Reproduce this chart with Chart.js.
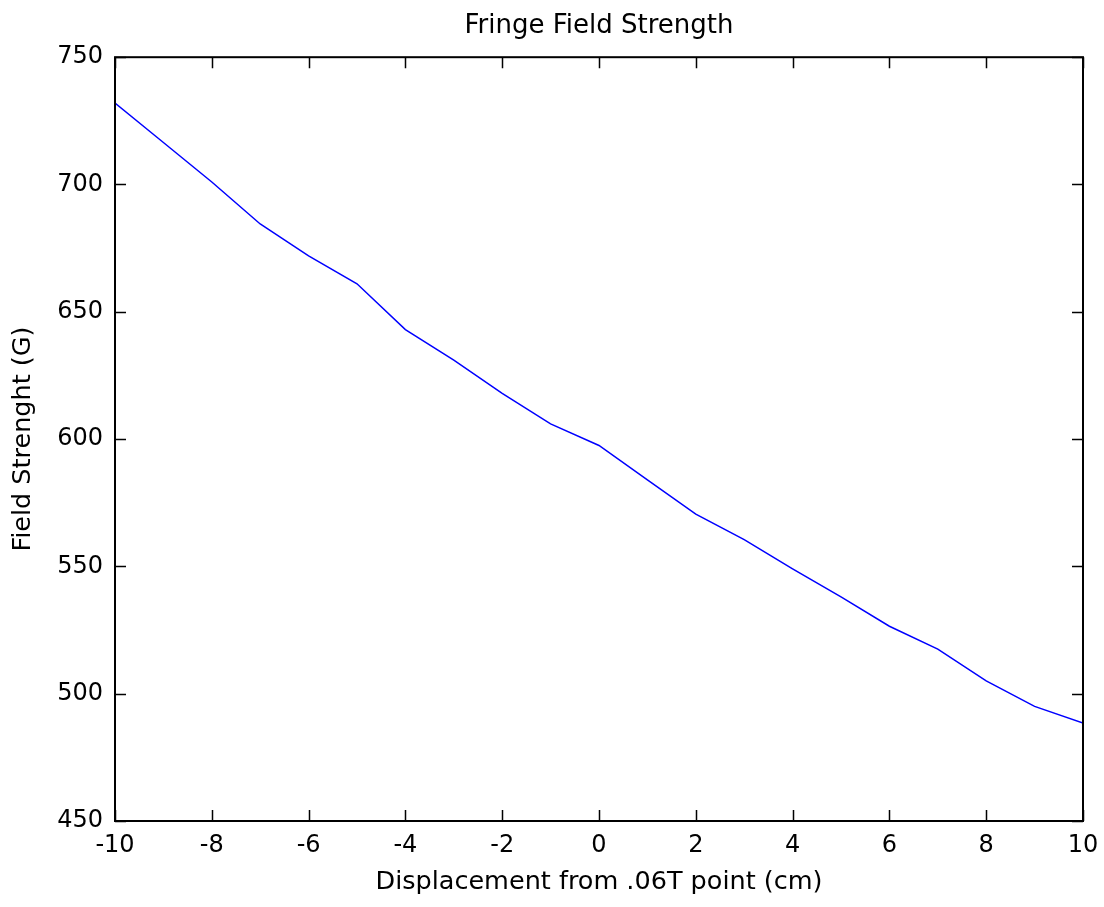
<!DOCTYPE html>
<html>
<head>
<meta charset="utf-8">
<title>Fringe Field Strength</title>
<script src="https://cdn.jsdelivr.net/npm/chart.js@4.4.1/dist/chart.umd.min.js"></script>
<style>
  html, body { margin: 0; padding: 0; background: #fff; }
  #wrap { width: 1104px; height: 907px; }
</style>
</head>
<body>
<div id="wrap"><canvas id="fieldChart" width="1104" height="907"></canvas></div>
<script>
const displacement = [-10, -9, -8, -7, -6, -5, -4, -3, -2, -1, 0, 1, 2, 3, 4, 5, 6, 7, 8, 9, 10];
const fieldStrength = [732, 716.5, 701, 684.5, 672, 661, 643, 631, 618, 606, 597.5, 584, 570.5, 560.5, 549, 538, 526.5, 517.5, 505, 495, 488.5];
const xRange = [-10, 10];
const yRange = [450, 750];

const FONT = 'DejaVu Sans';
Chart.defaults.color = '#000';
Chart.defaults.font.family = FONT;
Chart.defaults.font.size = 24;

// matlab style box with inward tick marks on all four sides
const boxTicks = {
    id: 'boxTicks',
    afterDatasetsDraw(chart) {
        const { ctx, chartArea: a, scales } = chart;
        const len = 11;
        ctx.save();
        ctx.strokeStyle = '#000';
        ctx.lineWidth = 1.5;
        ctx.beginPath();
        scales.x.ticks.forEach(t => {
            const px = Math.round(scales.x.getPixelForValue(t.value)) + 0.5;
            ctx.moveTo(px, a.bottom); ctx.lineTo(px, a.bottom - len);
            ctx.moveTo(px, a.top); ctx.lineTo(px, a.top + len);
        });
        scales.y.ticks.forEach(t => {
            const py = Math.round(scales.y.getPixelForValue(t.value)) + 0.5;
            ctx.moveTo(a.left, py); ctx.lineTo(a.left + len, py);
            ctx.moveTo(a.right, py); ctx.lineTo(a.right - len, py);
        });
        ctx.stroke();
        ctx.lineWidth = 2;
        ctx.strokeRect(a.left, a.top, a.right - a.left, a.bottom - a.top);
        ctx.restore();
    }
};

const points = displacement.map((x, i) => ({ x: x, y: fieldStrength[i] }));

new Chart(document.getElementById('fieldChart').getContext('2d'), {
    type: 'line',
    data: {
        datasets: [{
            data: points,
            borderColor: '#0000ff',
            borderWidth: 1.5,
            pointRadius: 0,
            tension: 0,
            fill: false
        }]
    },
    options: {
        responsive: false,
        animation: false,
        layout: { padding: { left: 0, right: 21, top: 0, bottom: 0 } },
        plugins: {
            legend: { display: false },
            tooltip: { enabled: false },
            title: {
                display: true,
                fullSize: false,
                text: 'Fringe Field Strength',
                color: '#000',
                font: { size: 26, weight: 'normal' },
                padding: { top: 11, bottom: 15 }
            }
        },
        scales: {
            x: {
                type: 'linear',
                min: xRange[0],
                max: xRange[1],
                grid: { display: false, drawTicks: false },
                border: { display: false },
                ticks: { stepSize: 2, padding: 10, maxRotation: 0 },
                title: {
                    display: true,
                    text: 'Displacement from .06T point (cm)',
                    font: { size: 25.5 },
                    padding: { top: 0, bottom: 9 }
                },
                afterFit: scale => {
                    scale.height = 86;
                    scale.paddingLeft = 0;
                    scale.paddingRight = 0;
                }
            },
            y: {
                min: yRange[0],
                max: yRange[1],
                grid: { display: false, drawTicks: false },
                border: { display: false },
                ticks: { stepSize: 50, padding: 12 },
                title: {
                    display: true,
                    text: 'Field Strenght (G)',
                    font: { size: 25.5 },
                    padding: { top: 8, bottom: 0 }
                },
                afterFit: scale => {
                    scale.width = 115;
                    scale.paddingTop = 0;
                    scale.paddingBottom = 0;
                }
            }
        }
    },
    plugins: [boxTicks]
});
</script>
</body>
</html>
